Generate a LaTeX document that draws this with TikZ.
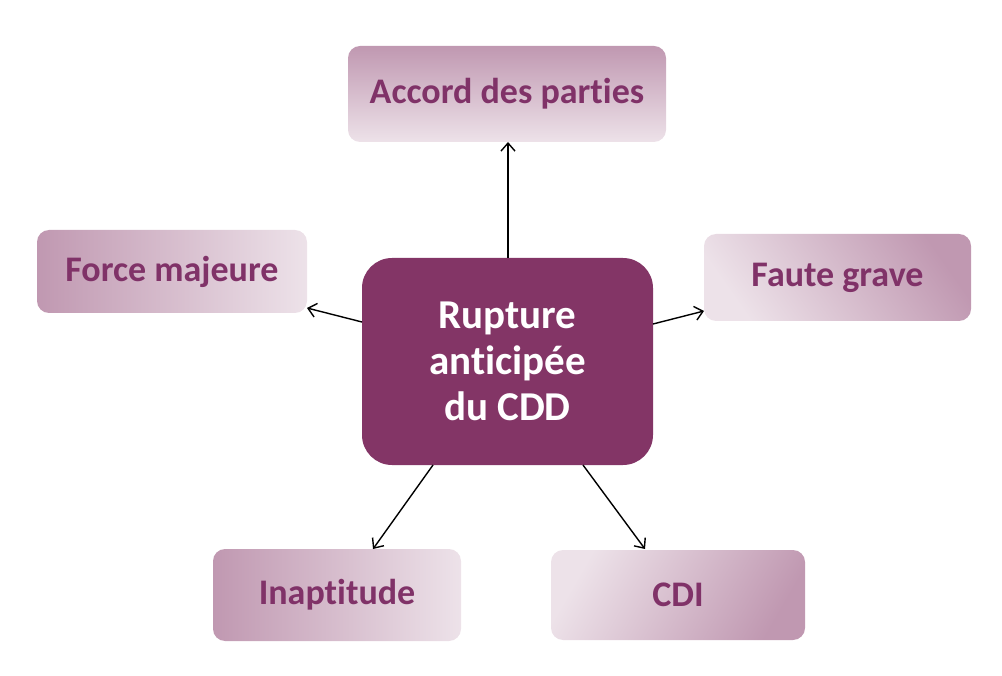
\documentclass[tikz,border=0pt]{standalone}
\usepackage{fontspec}
\setmainfont[Ligatures={NoCommon}]{Carlito}
\usetikzlibrary{arrows.meta}
\definecolor{plum}{RGB}{131,53,102}
\definecolor{txtplum}{RGB}{128,50,104}
\definecolor{darkpink}{RGB}{192,152,177}
\definecolor{lightpink}{RGB}{237,226,233}
\tikzset{
  leaf/.style={rectangle, rounded corners=12pt, inner sep=0pt,
    font=\bfseries\fontsize{36}{40}\selectfont, text=txtplum},
  hub/.style={rectangle, rounded corners=30pt, fill=plum, inner sep=0pt,
    font=\bfseries\fontsize{41}{46}\selectfont, text=white, align=center,
    minimum width=291pt, minimum height=207pt},
  link/.style={draw=black, line width=1.4pt, -{Straight Barb[length=8pt,width=14pt,line width=1.4pt]}}
}
\begin{document}
\begin{tikzpicture}[x=1pt,y=-1pt]
\useasboundingbox (0,0) rectangle (1002,676);
\node[hub] (c) at (507.5,361.5) {Rupture\\anticipée\\du CDD};
\node[leaf, minimum width=318pt, minimum height=96pt, top color=darkpink, bottom color=lightpink] (a) at (507,94) {Accord des parties};
\node[leaf, minimum width=270pt, minimum height=83pt, left color=darkpink, right color=lightpink] (f) at (172,271.5) {Force majeure};
\node[leaf, minimum width=267pt, minimum height=87pt, top color=darkpink, bottom color=lightpink, shading angle=-55] (g) at (837.5,277.5) {Faute grave};
\node[leaf, minimum width=248pt, minimum height=92pt, left color=darkpink, right color=lightpink] (i) at (337,595) {Inaptitude};
\node[leaf, minimum width=254pt, minimum height=90pt, top color=lightpink, bottom color=darkpink, shading angle=60] (d) at (678,595) {CDI};
\coordinate (ct) at (508,258);
\coordinate (cl) at (362,322);
\coordinate (cr) at (653,324);
\coordinate (cbl) at (433,465);
\coordinate (cbr) at (583,465);
\coordinate (at) at (508,142);
\coordinate (ft) at (307,308);
\coordinate (gt) at (704,311);
\coordinate (it) at (373,549);
\coordinate (dt) at (645,549);
\draw[link] (ct) -- (at);
\draw[link] (cl) -- (ft);
\draw[link] (cr) -- (gt);
\draw[link] (cbl) -- (it);
\draw[link] (cbr) -- (dt);
\end{tikzpicture}
\end{document}
